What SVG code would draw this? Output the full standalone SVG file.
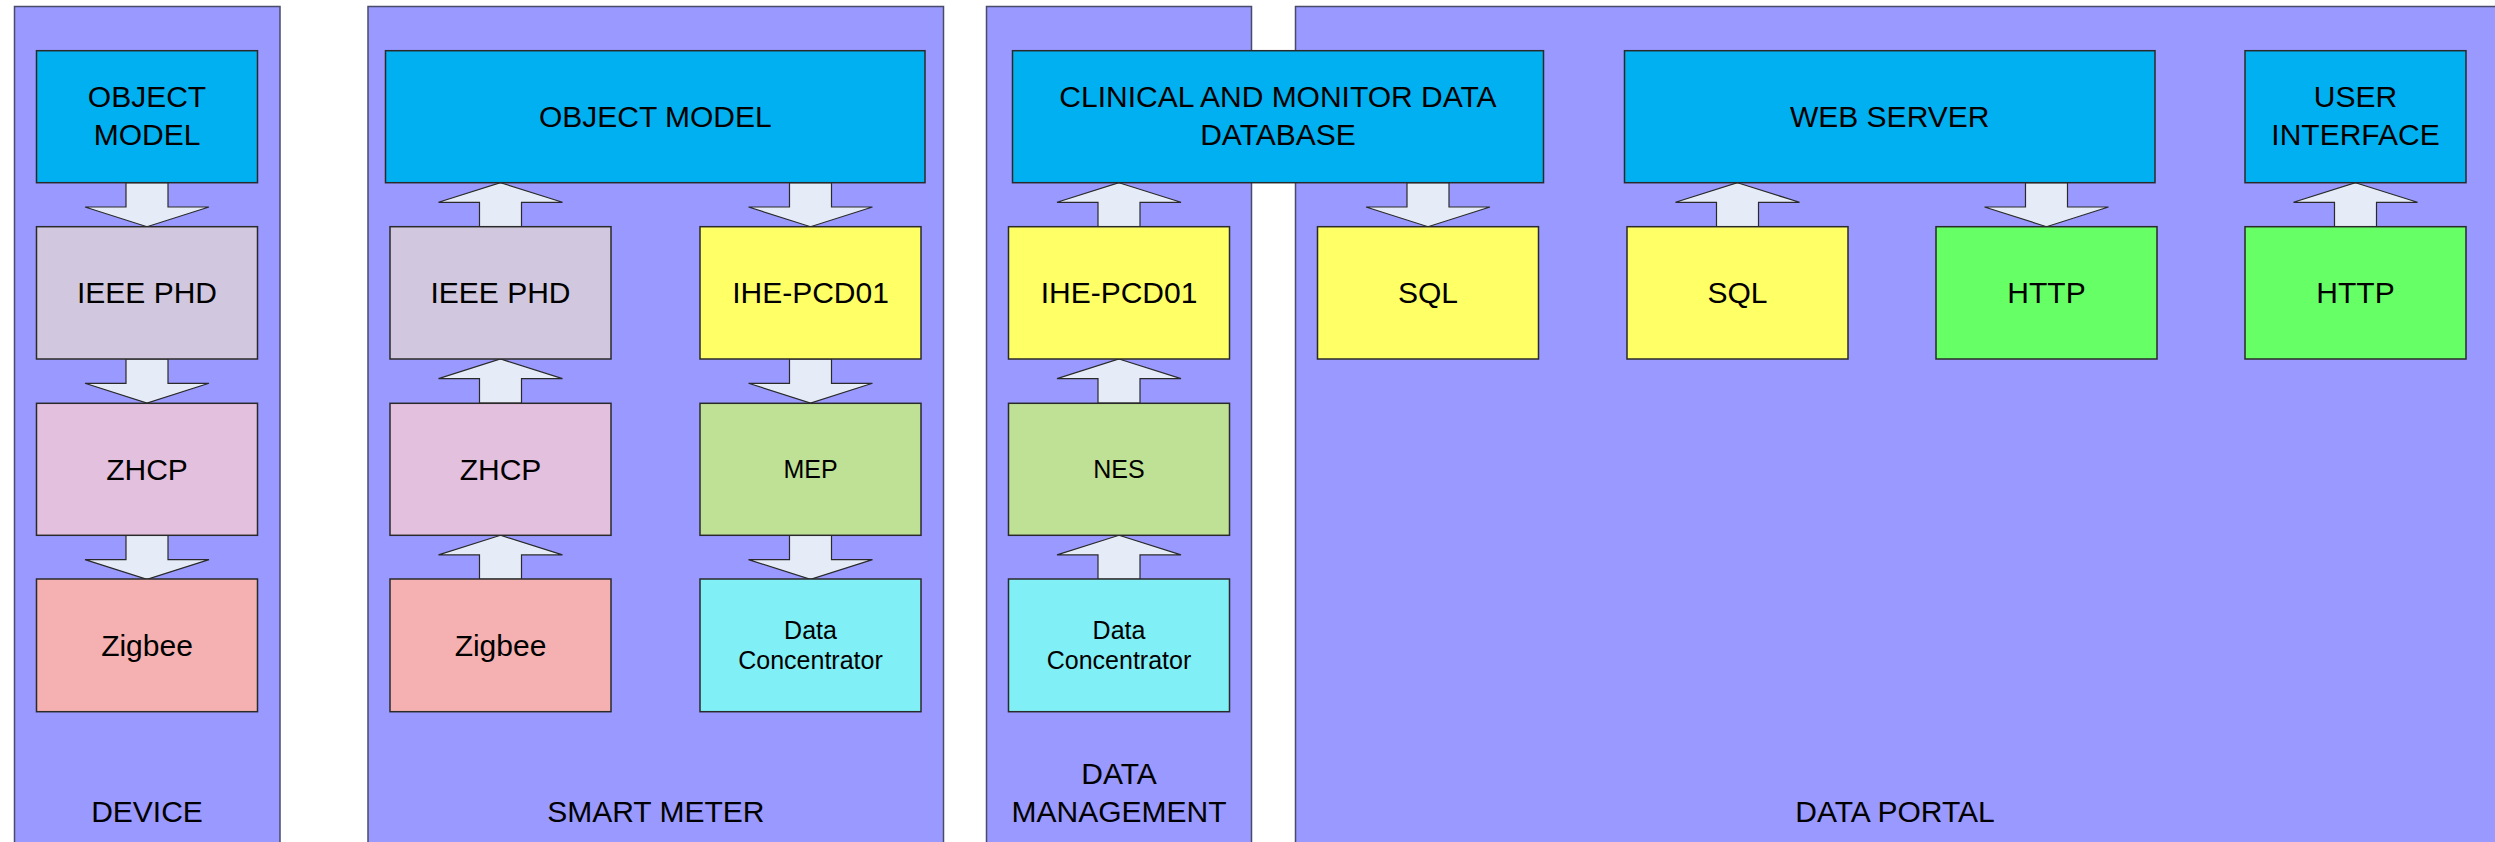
<svg xmlns="http://www.w3.org/2000/svg" xmlns:xlink="http://www.w3.org/1999/xlink" width="2495" height="842" viewBox="0 0 2495 842">
<style>
.panel{fill:#9999ff;stroke:#4a4a6a;stroke-width:1.5}
.box{stroke:#2a2a2a;stroke-width:1.5}
.blue{fill:#00b0f0}
.phd{fill:#d1c8df}
.zhcp{fill:#e4c0df}
.zig{fill:#f5b1b1}
.yel{fill:#ffff66}
.grn{fill:#bfe195}
.dc{fill:#80eff6}
.http{fill:#66ff66}
.arrow{fill:#e6ecf7;stroke:#2a2a2a;stroke-width:1.2}
text{font-family:"Liberation Sans",Arial,sans-serif;fill:#000;text-anchor:middle}
.t30{font-size:30px}
.t25{font-size:25px}
</style>
<defs>
<path id="down" class="arrow" d="M-21,0 H21 V24.3 H62 L0,44 L-62,24.3 H-21 Z"/>
<path id="up" class="arrow" d="M0,0 L62,19.6 H21 V44 H-21 V19.6 H-62 Z"/>
</defs>
<g id="panels">
<g id="panel-device"><rect class="panel" x="14.5" y="6.5" width="265.5" height="850"/><text class="t30" x="147" y="821.7">DEVICE</text></g>
<g id="panel-smart-meter"><rect class="panel" x="368" y="6.5" width="575.5" height="850"/><text class="t30" x="655.8" y="821.7">SMART METER</text></g>
<g id="panel-data-management"><rect class="panel" x="986.5" y="6.5" width="265" height="850"/><text class="t30" x="1119" y="784.3">DATA</text><text class="t30" x="1119" y="821.7">MANAGEMENT</text></g>
<g id="panel-data-portal"><rect class="panel" x="1295.5" y="6.5" width="1210" height="850"/><text class="t30" x="1895" y="821.7">DATA PORTAL</text></g>
</g>
<g id="connectors">
<use xlink:href="#down" x="147" y="182.7"/>
<use xlink:href="#down" x="147" y="359"/>
<use xlink:href="#down" x="147" y="535.3"/>
<use xlink:href="#up" x="500.5" y="182.7"/>
<use xlink:href="#up" x="500.5" y="359"/>
<use xlink:href="#up" x="500.5" y="535.3"/>
<use xlink:href="#down" x="810.5" y="182.7"/>
<use xlink:href="#down" x="810.5" y="359"/>
<use xlink:href="#down" x="810.5" y="535.3"/>
<use xlink:href="#up" x="1119" y="182.7"/>
<use xlink:href="#up" x="1119" y="359"/>
<use xlink:href="#up" x="1119" y="535.3"/>
<use xlink:href="#down" x="1428" y="182.7"/>
<use xlink:href="#up" x="1737.5" y="182.7"/>
<use xlink:href="#down" x="2046.5" y="182.7"/>
<use xlink:href="#up" x="2355.5" y="182.7"/>
</g>
<g id="dev-object-model"><rect class="box blue" x="36.5" y="50.7" width="221" height="132"/><text class="t30" x="147" y="107.3">OBJECT</text><text class="t30" x="147" y="145">MODEL</text></g>
<g id="dev-ieee-phd"><rect class="box phd" x="36.5" y="226.7" width="221" height="132.3"/><text class="t30" x="147" y="303">IEEE PHD</text></g>
<g id="dev-zhcp"><rect class="box zhcp" x="36.5" y="403.3" width="221" height="132"/><text class="t30" x="147" y="480">ZHCP</text></g>
<g id="dev-zigbee"><rect class="box zig" x="36.5" y="579" width="221" height="132.7"/><text class="t30" x="147" y="656">Zigbee</text></g>

<g id="sm-object-model"><rect class="box blue" x="385.5" y="50.7" width="539.5" height="132"/><text class="t30" x="655.3" y="127.4">OBJECT MODEL</text></g>
<g id="sm-ieee-phd"><rect class="box phd" x="390" y="226.7" width="221" height="132.3"/><text class="t30" x="500.5" y="303">IEEE PHD</text></g>
<g id="sm-zhcp"><rect class="box zhcp" x="390" y="403.3" width="221" height="132"/><text class="t30" x="500.5" y="480">ZHCP</text></g>
<g id="sm-zigbee"><rect class="box zig" x="390" y="579" width="221" height="132.7"/><text class="t30" x="500.5" y="656">Zigbee</text></g>
<g id="sm-ihe-pcd01"><rect class="box yel" x="700" y="226.7" width="221" height="132.3"/><text class="t30" x="810.5" y="303">IHE-PCD01</text></g>
<g id="sm-mep"><rect class="box grn" x="700" y="403.3" width="221" height="132"/><text class="t25" x="810.5" y="478">MEP</text></g>
<g id="sm-data-concentrator"><rect class="box dc" x="700" y="579" width="221" height="132.7"/><text class="t25" x="810.5" y="638.5">Data</text><text class="t25" x="810.5" y="668.5">Concentrator</text></g>

<g id="dm-clinical-db"><rect class="box blue" x="1012.5" y="50.7" width="531" height="132"/><text class="t30" x="1278" y="107.3">CLINICAL AND MONITOR DATA</text><text class="t30" x="1278" y="145">DATABASE</text></g>
<g id="dm-ihe-pcd01"><rect class="box yel" x="1008.5" y="226.7" width="221" height="132.3"/><text class="t30" x="1119" y="303">IHE-PCD01</text></g>
<g id="dm-nes"><rect class="box grn" x="1008.5" y="403.3" width="221" height="132"/><text class="t25" x="1119" y="478">NES</text></g>
<g id="dm-data-concentrator"><rect class="box dc" x="1008.5" y="579" width="221" height="132.7"/><text class="t25" x="1119" y="638.5">Data</text><text class="t25" x="1119" y="668.5">Concentrator</text></g>

<g id="dp-sql-1"><rect class="box yel" x="1317.5" y="226.7" width="221" height="132.3"/><text class="t30" x="1428" y="303">SQL</text></g>
<g id="dp-web-server"><rect class="box blue" x="1624.5" y="50.7" width="530.5" height="132"/><text class="t30" x="1889.7" y="127.4">WEB SERVER</text></g>
<g id="dp-sql-2"><rect class="box yel" x="1627" y="226.7" width="221" height="132.3"/><text class="t30" x="1737.5" y="303">SQL</text></g>
<g id="dp-http-1"><rect class="box http" x="1936" y="226.7" width="221" height="132.3"/><text class="t30" x="2046.5" y="303">HTTP</text></g>
<g id="dp-user-interface"><rect class="box blue" x="2245" y="50.7" width="221" height="132"/><text class="t30" x="2355.5" y="107.3">USER</text><text class="t30" x="2355.5" y="145">INTERFACE</text></g>
<g id="dp-http-2"><rect class="box http" x="2245" y="226.7" width="221" height="132.3"/><text class="t30" x="2355.5" y="303">HTTP</text></g>
</svg>
